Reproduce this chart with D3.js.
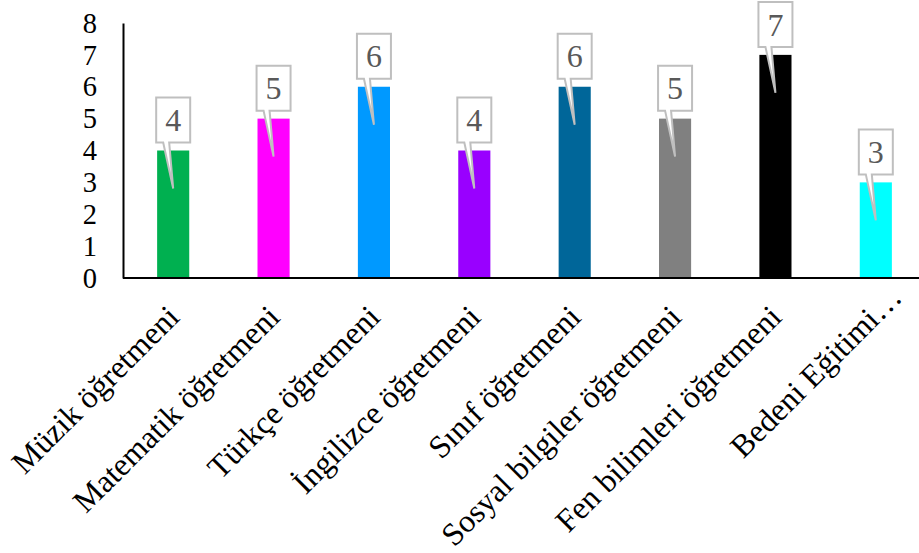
<!DOCTYPE html>
<html><head><meta charset="utf-8">
<script src="https://cdn.jsdelivr.net/npm/d3@7"></script>
<style>html,body{margin:0;padding:0;background:#fff;}</style>
</head><body>
<svg id="chart" width="919" height="553"></svg>
<script>
const categories = ["Müzik öğretmeni","Matematik öğretmeni","Türkçe öğretmeni","İngilizce öğretmeni","Sınıf öğretmeni","Sosyal bilgiler öğretmeni","Fen bilimleri öğretmeni","Bedeni Eğitimi…"];
const values = [4,5,6,4,6,5,7,3];
const colors = ["#00b050","#ff00ff","#0099ff","#9900ff","#006699","#808080","#000000","#00ffff"];
const yTicks = [0,1,2,3,4,5,6,7,8];

const svg = d3.select("#chart");
const font = "'Liberation Serif','Times New Roman',serif";
const x = d3.scaleBand().domain(categories).range([123, 926]).paddingInner(0.68).paddingOuter(0.34);
const y = d3.scaleLinear().domain([0, 8]).range([278, 23]);

// y axis
const yAxis = d3.axisLeft(y).tickValues(yTicks).tickSize(0).tickPadding(26);
const ga = svg.append("g").attr("transform","translate(123,0)").call(yAxis);
ga.select(".domain").attr("stroke","#000").attr("stroke-width",2);
ga.selectAll("text").attr("font-family",font).attr("font-size",28.5).attr("fill","#000");

// bars
svg.selectAll("rect.bar").data(values).enter().append("rect").attr("class","bar")
  .attr("x",(d,i)=>x(categories[i])).attr("width",x.bandwidth())
  .attr("y",d=>y(d)).attr("height",d=>y(0)-y(d)).attr("fill",(d,i)=>colors[i]);

// x axis
const xAxis = d3.axisBottom(x).tickSize(0).tickFormat("");
const gx = svg.append("g").attr("transform","translate(0,278)").call(xAxis);
gx.select(".domain").attr("stroke","#000").attr("stroke-width",2).attr("d","M123,0H919");

// category labels (truncated label sits further along its baseline, as in the reference)
svg.selectAll("text.cat").data(categories).enter().append("text").attr("class","cat")
  .attr("transform",d=>`translate(${x(d)+x.bandwidth()/2},311) rotate(-45)`)
  .attr("text-anchor","end").attr("dy","0.35em")
  .attr("dx",d=>d.endsWith("…") ? 28 : 0)
  .attr("font-family",font).attr("font-size",32).attr("fill","#000").text(d=>d);

// callouts
const bw = x.bandwidth();
const callouts = svg.selectAll("g.callout").data(values).enter().append("g").attr("class","callout");
callouts.append("path")
  .attr("d",(d,i)=>{
    const cx = x(categories[i]) + bw/2;
    const top = y(d);
    const bx0 = cx - 17, bx1 = cx + 17, by1 = top - 8, by0 = by1 - 45;
    const tipY = top + 38;
    return `M${bx0},${by0}H${bx1}V${by1}H${cx-4}L${cx},${tipY}L${cx-10},${by1}H${bx0}Z`;
  })
  .attr("fill","#fff").attr("stroke","#bfbfbf").attr("stroke-width",2);
callouts.append("text")
  .attr("x",(d,i)=>x(categories[i]) + bw/2)
  .attr("y",d=>y(d) - 8 - 22.5)
  .attr("dy","0.35em").attr("text-anchor","middle")
  .attr("font-family",font).attr("font-size",32).attr("fill","#595959").text(d=>d);
</script>
</body></html>
